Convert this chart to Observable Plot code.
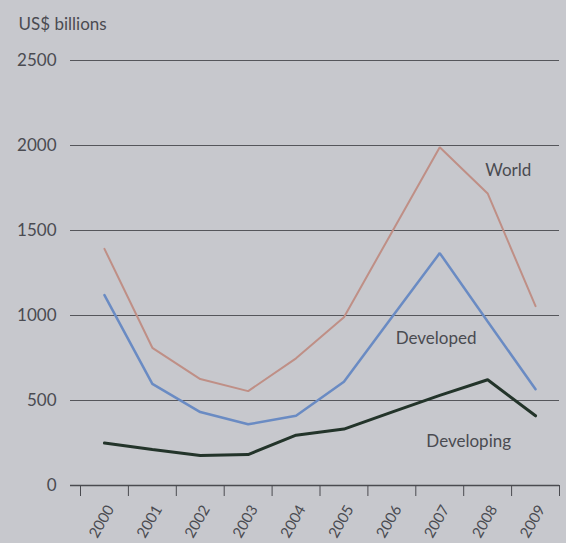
<!DOCTYPE html>
<html>
<head>
<meta charset="utf-8">
<script src="https://cdn.jsdelivr.net/npm/d3@7"></script>
<script src="https://cdn.jsdelivr.net/npm/@observablehq/plot@0.6"></script>
<style>
  html, body { margin: 0; padding: 0; background: #c7c8cd; }
  #chart { width: 566px; height: 543px; }
  svg { display: block; }
</style>
</head>
<body>
<div id="chart"></div>
<script>
const years = [2000, 2001, 2002, 2003, 2004, 2005, 2006, 2007, 2008, 2009];
const world = [1392, 810, 626, 555, 748, 990, 1490, 1990, 1718, 1055];
const developed = [1120, 598, 432, 360, 410, 610, 990, 1367, 965, 566];
const developing = [250, 212, 176, 182, 296, 332, 432, 530, 622, 410];
const yTicks = [0, 500, 1000, 1500, 2000, 2500];
const seriesNames = ["World", "Developed", "Developing"];
const yLabel = "US$ billions";

const series = { World: world, Developed: developed, Developing: developing };
const rows = seriesNames.flatMap(name => years.map((yr, i) => ({ series: name, year: yr, value: series[name][i] })));
const bounds = years.map(y => y - 0.5).concat([years[years.length - 1] + 0.5]);

const colors = { World: "#bf8f86", Developed: "#6a8bc3", Developing: "#23342a" };
const widths = { World: 2, Developed: 2.5, Developing: 3 };

const font = "Lato, 'Open Sans', sans-serif";
const textColor = "#4a4b51";

const plot = Plot.plot({
  width: 566,
  height: 543,
  marginLeft: 70,
  marginRight: 7,
  marginTop: 60,
  marginBottom: 58,
  style: { background: "#c7c8cd", fontFamily: font, fontSize: "16px", color: textColor },
  x: { type: "linear", domain: [bounds[0], bounds[bounds.length - 1]], range: [80, 559] },
  y: { domain: [0, 2500] },
  marks: [
    Plot.ruleY(yTicks.filter(d => d > 0), { stroke: "#55565b", strokeWidth: 1.2 }),
    Plot.ruleY([0], { stroke: "#4a4b50", strokeWidth: 1.5 }),
    Plot.axisY({ ticks: yTicks, tickSize: 0, tickPadding: 14, tickFormat: "d", label: null, fontSize: 17, fill: textColor }),
    Plot.axisX({ ticks: bounds, tickSize: 11, tickFormat: () => "", label: null, stroke: "#4a4b50" }),
    Plot.axisX({ ticks: years, tickSize: 0, tickFormat: "d", tickRotate: -60, tickPadding: 21, dx: 6, label: null, fontSize: 15, fill: textColor }),
    ...seriesNames.map(name => Plot.line(rows.filter(r => r.series === name), {
      x: "year", y: "value", stroke: colors[name], strokeWidth: widths[name], strokeLinejoin: "miter"
    })),
    Plot.text([yLabel], { frameAnchor: "top-left", dx: -52, dy: -43, textAnchor: "start", fontSize: 17, fill: textColor }),
    Plot.text(["World"], { x: 2007.95, y: 1850, textAnchor: "start", fontSize: 17, fill: textColor }),
    Plot.text(["Developed"], { x: 2006.08, y: 865, textAnchor: "start", fontSize: 17, fill: textColor }),
    Plot.text(["Developing"], { x: 2006.72, y: 258, textAnchor: "start", fontSize: 17, fill: textColor })
  ]
});
document.getElementById("chart").appendChild(plot);
</script>
</body>
</html>
